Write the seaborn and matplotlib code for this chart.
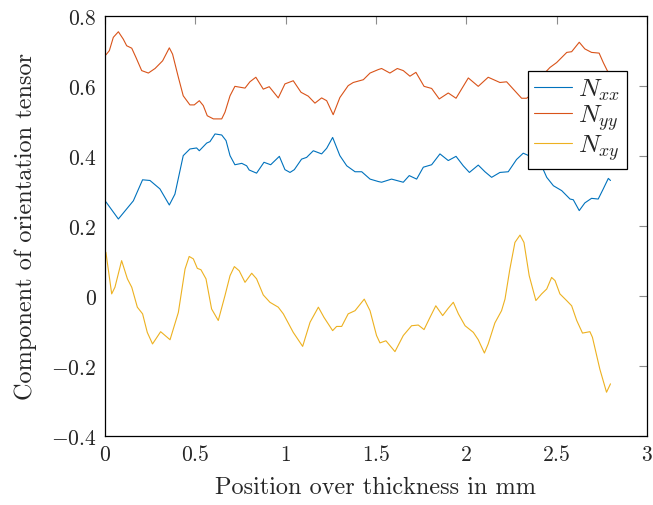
import numpy as np
import pandas as pd
import matplotlib
matplotlib.use("Agg")
import matplotlib.pyplot as plt
from matplotlib.ticker import FuncFormatter
import seaborn as sns

# Orientation tensor components across the part thickness (mm)
x_xx = [0.005, 0.074, 0.157, 0.208, 0.249, 0.304, 0.356, 0.387, 0.433, 0.47, 0.507, 0.522,
        0.563, 0.581, 0.609, 0.646, 0.67, 0.692, 0.719, 0.757, 0.784, 0.798, 0.839, 0.88,
        0.917, 0.965, 0.996, 1.024, 1.048, 1.088, 1.116, 1.153, 1.199, 1.227, 1.26, 1.3,
        1.338, 1.384, 1.421, 1.467, 1.513, 1.531, 1.586, 1.651, 1.684, 1.725, 1.762, 1.808,
        1.854, 1.9, 1.943, 1.983, 2.017, 2.066, 2.103, 2.14, 2.186, 2.232, 2.278, 2.315,
        2.35, 2.38, 2.408, 2.445, 2.482, 2.528, 2.574, 2.592, 2.625, 2.656, 2.693, 2.73,
        2.758, 2.786, 2.798]
n_xx = [0.269, 0.22, 0.272, 0.332, 0.33, 0.306, 0.26, 0.291, 0.401, 0.42, 0.423, 0.415,
        0.437, 0.441, 0.463, 0.46, 0.444, 0.401, 0.375, 0.379, 0.372, 0.36, 0.351, 0.382,
        0.375, 0.399, 0.361, 0.353, 0.361, 0.391, 0.396, 0.415, 0.406, 0.422, 0.453, 0.401,
        0.372, 0.355, 0.355, 0.334, 0.327, 0.325, 0.334, 0.325, 0.344, 0.334, 0.368, 0.375,
        0.406, 0.387, 0.399, 0.372, 0.353, 0.374, 0.355, 0.339, 0.353, 0.355, 0.39, 0.408,
        0.40, 0.395, 0.382, 0.339, 0.315, 0.301, 0.277, 0.275, 0.244, 0.266, 0.279, 0.277,
        0.306, 0.336, 0.33]

x_yy = [0.005, 0.024, 0.046, 0.074, 0.101, 0.12, 0.148, 0.171, 0.203, 0.24, 0.277, 0.319,
        0.338, 0.356, 0.374, 0.406, 0.433, 0.47, 0.494, 0.522, 0.544, 0.566, 0.6, 0.646,
        0.664, 0.692, 0.719, 0.775, 0.802, 0.835, 0.876, 0.909, 0.959, 0.996, 1.042, 1.085,
        1.125, 1.162, 1.199, 1.227, 1.263, 1.3, 1.346, 1.374, 1.43, 1.467, 1.513, 1.531,
        1.577, 1.618, 1.651, 1.688, 1.721, 1.766, 1.808, 1.85, 1.9, 1.943, 2.011, 2.066,
        2.121, 2.186, 2.223, 2.26, 2.306, 2.334, 2.37, 2.4, 2.43, 2.463, 2.5, 2.556, 2.583,
        2.625, 2.656, 2.693, 2.735, 2.758, 2.78, 2.798]
n_yy = [0.689, 0.701, 0.739, 0.755, 0.734, 0.715, 0.708, 0.682, 0.644, 0.637, 0.65, 0.672,
        0.691, 0.709, 0.691, 0.625, 0.572, 0.546, 0.546, 0.558, 0.544, 0.515, 0.506, 0.506,
        0.525, 0.572, 0.599, 0.594, 0.612, 0.625, 0.591, 0.598, 0.566, 0.606, 0.615, 0.582,
        0.571, 0.551, 0.566, 0.558, 0.518, 0.567, 0.601, 0.61, 0.618, 0.637, 0.647, 0.65,
        0.637, 0.65, 0.644, 0.628, 0.639, 0.599, 0.593, 0.563, 0.58, 0.565, 0.623, 0.599,
        0.625, 0.61, 0.612, 0.591, 0.565, 0.565, 0.58, 0.61, 0.635, 0.653, 0.667, 0.696,
        0.698, 0.725, 0.706, 0.696, 0.694, 0.667, 0.644, 0.63]

x_xy = [0.005, 0.037, 0.055, 0.092, 0.124, 0.148, 0.179, 0.208, 0.234, 0.263, 0.308, 0.36,
        0.406, 0.443, 0.466, 0.489, 0.511, 0.531, 0.559, 0.59, 0.627, 0.664, 0.692, 0.716,
        0.743, 0.775, 0.812, 0.839, 0.876, 0.913, 0.959, 0.987, 1.042, 1.094, 1.135, 1.181,
        1.212, 1.26, 1.282, 1.31, 1.346, 1.384, 1.435, 1.467, 1.503, 1.522, 1.555, 1.605,
        1.651, 1.697, 1.734, 1.766, 1.799, 1.831, 1.869, 1.9, 1.928, 1.956, 1.993, 2.039,
        2.066, 2.1, 2.121, 2.158, 2.195, 2.214, 2.241, 2.269, 2.297, 2.319, 2.348, 2.385,
        2.417, 2.445, 2.472, 2.491, 2.518, 2.555, 2.583, 2.611, 2.643, 2.684, 2.698, 2.739,
        2.776, 2.798]
n_xy = [0.125, 0.006, 0.025, 0.101, 0.049, 0.025, -0.032, -0.051, -0.104, -0.137, -0.102,
        -0.125, -0.047, 0.077, 0.113, 0.106, 0.079, 0.075, 0.049, -0.037, -0.07, 0.001, 0.058,
        0.084, 0.072, 0.039, 0.065, 0.049, 0.003, -0.018, -0.032, -0.051, -0.104, -0.144,
        -0.075, -0.032, -0.061, -0.099, -0.087, -0.087, -0.051, -0.042, -0.009, -0.042,
        -0.113, -0.134, -0.128, -0.159, -0.113, -0.085, -0.083, -0.096, -0.061, -0.028,
        -0.056, -0.035, -0.018, -0.051, -0.085, -0.104, -0.125, -0.163, -0.137, -0.077,
        -0.042, -0.009, 0.077, 0.153, 0.174, 0.153, 0.058, -0.013, 0.006, 0.02, 0.053, 0.044,
        0.006, -0.013, -0.028, -0.07, -0.106, -0.102, -0.118, -0.209, -0.275, -0.251]

labels = [r"$N_{xx}$", r"$N_{yy}$", r"$N_{xy}$"]
colors = ["#0072BD", "#D95319", "#EDB120"]
x_ticks = [0, 0.5, 1, 1.5, 2, 2.5, 3]
y_ticks = [-0.4, -0.2, 0, 0.2, 0.4, 0.6, 0.8]

frames = []
for lab, xs, ys in zip(labels, [x_xx, x_yy, x_xy], [n_xx, n_yy, n_xy]):
    frames.append(pd.DataFrame({"pos": xs, "val": ys, "comp": lab}))
df = pd.concat(frames, ignore_index=True)

sns.set_style("white")
plt.rcParams["font.family"] = ["cmr10"]
plt.rcParams["mathtext.fontset"] = "cm"
plt.rcParams["axes.formatter.use_mathtext"] = True

fig = plt.figure(figsize=(6.53, 5.06), dpi=100)
ax = fig.add_axes([0.1608, 0.1364, 0.8300, 0.8300])

sns.lineplot(data=df, x="pos", y="val", hue="comp", palette=colors, sort=False,
             estimator=None, linewidth=0.8, ax=ax, legend=True)

ax.set_xlim(0, 3)
ax.set_ylim(-0.4, 0.8)
ax.set_xticks(x_ticks)
ax.set_yticks(y_ticks)
ax.xaxis.set_major_formatter(FuncFormatter(lambda v, p: r"$%g$" % v))
ax.yaxis.set_major_formatter(FuncFormatter(lambda v, p: r"$%g$" % round(v, 2)))
ax.tick_params(axis="both", which="both", direction="in", length=6, width=0.8,
               color="#8c8c8c", labelsize=15.5, top=True, right=True, pad=6)

for s in ax.spines.values():
    s.set_color("black")
    s.set_linewidth(0.9)

ax.set_xlabel("Position over thickness in mm", fontsize=17.5, labelpad=8)
ax.set_ylabel("Component of orientation tensor", fontsize=17.5, labelpad=10)

handles, labs = ax.get_legend_handles_labels()
leg = ax.legend(handles, labs, loc="upper right", bbox_to_anchor=(0.9626, 0.87),
                borderaxespad=0, fontsize=18.5, frameon=True, fancybox=False,
                framealpha=1, handlelength=1.45, handletextpad=0.25,
                labelspacing=0.0, borderpad=0.25)
leg.get_frame().set_edgecolor("black")
leg.get_frame().set_linewidth(0.9)

fig.savefig("out.png", dpi=100)
